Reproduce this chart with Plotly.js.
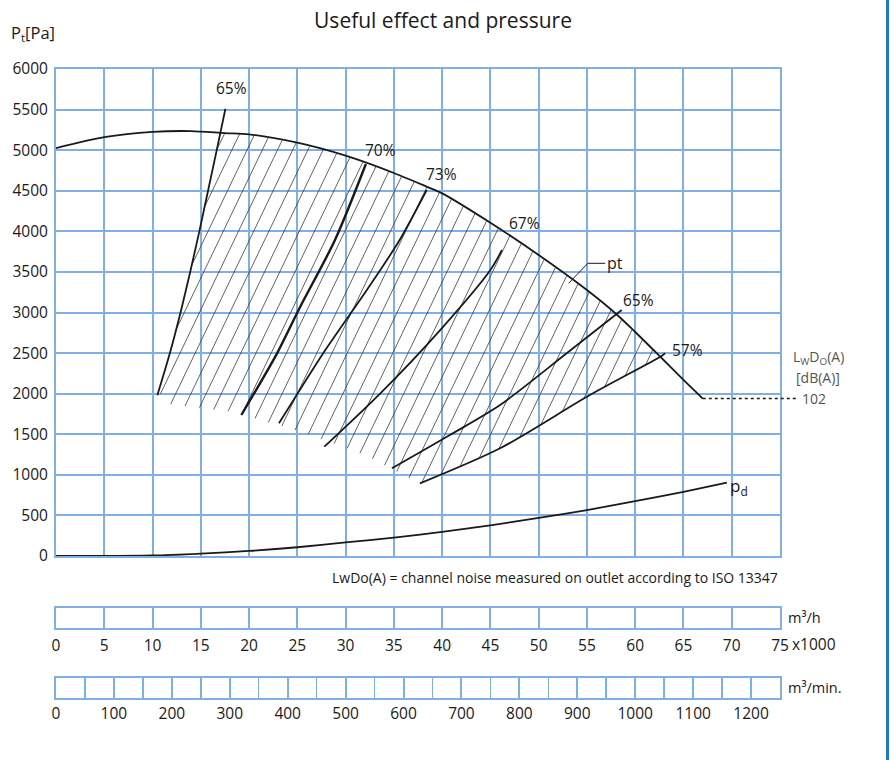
<!DOCTYPE html>
<html><head><meta charset="utf-8">
<script src="https://cdn.plot.ly/plotly-3.0.1.min.js"></script>
<style>html,body{margin:0;padding:0;background:#fff}#chart{width:896px;height:760px}</style>
</head><body><div id="chart"></div>
<script>
// ---------------- data ----------------
const ptX = [0, 5, 10, 14, 17.5, 20, 25, 30, 35, 38.5, 40, 45, 50, 55, 58, 60, 62.6, 65, 67];
const ptY = [5025, 5160, 5225, 5235, 5210, 5195, 5092, 4932, 4719, 4545, 4468, 4106, 3708, 3277, 2985, 2760, 2455, 2170, 1940];
const pdX = [0, 5, 10, 15, 20, 25, 30, 35, 40, 45, 50, 55, 60, 65, 69.5];
const pdY = [0, 2, 6, 30, 62, 108, 168, 226, 296, 378, 470, 566, 675, 791, 903];
const eff65LX = [10.5, 11.8, 12.9, 13.9, 14.85, 15.75, 16.65, 17.55];
const eff65LY = [1980, 2500, 3000, 3500, 4000, 4500, 5000, 5510];
const eff70X = [19.2, 22.9, 25.3, 28.9, 32.1];
const eff70Y = [1737, 2497, 3071, 3893, 4829];
const eff73X = [23.1, 27.9, 32.2, 35.6, 38.4];
const eff73Y = [1635, 2538, 3277, 3893, 4509];
const eff67X = [27.8, 33.6, 39.8, 45.0, 46.2];
const eff67Y = [1347, 2004, 2784, 3524, 3770];
const eff65RX = [34.8, 40.8, 46.0, 52.9, 58.6];
const eff65RY = [1080, 1490, 1860, 2497, 3031];
const eff57X = [37.7, 46.0, 55.3, 62.6, 63.1];
const eff57Y = [895, 1327, 1983, 2455, 2497];
const hatchBaseX = [10.8, 18.3, 25.3, 32.0, 37.5];
const hatchBaseY = [1885, 1774, 1531, 1244, 900];
const effLabels = ['65%', '70%', '73%', '67%', '65%', '57%'];
const effLabelX = [18.2, 33.6, 39.9, 48.5, 60.3, 65.4];
const effLabelY = [5760, 5000, 4706, 4100, 3154, 2538];
const ptLeaderX = [53.1, 55.1, 56.9];
const ptLeaderY = [3360, 3606, 3606];
const ptLabel = 'pt';
const pdLabel = 'p<sub>d</sub>';
const pdLabelX = 69.6, pdLabelY = 860;
const noiseLineX = [67.0, 76.8];
const noiseLineY = 1940;
const noiseValue = '102';
const yTicks = [0, 500, 1000, 1500, 2000, 2500, 3000, 3500, 4000, 4500, 5000, 5500, 6000];
const flowTicksH = [0, 5, 10, 15, 20, 25, 30, 35, 40, 45, 50, 55, 60, 65, 70, 75];
const flowTicksMin = [0, 100, 200, 300, 400, 500, 600, 700, 800, 900, 1000, 1100, 1200];
const xRange = [0, 75], yRange = [0, 6000], minRange = [0, 1250];

// ---------------- layout geometry / styles ----------------
const W = 896, H = 760;
const M = {l: 56, r: 116, t: 69, b: 62};
const plotW = W - M.l - M.r, plotH = H - M.t - M.b;
const mainDom = [142 / plotH, 1];
const barHDom = [70 / plotH, 90.5 / plotH];
const barMDom = [0, 20.5 / plotH];
const GRID = '#80afe5', INK = '#1a1a1a', GREY = '#555', FONT = 'Open Sans, Noto Sans, sans-serif';
const px = v => (v - xRange[0]) / (xRange[1] - xRange[0]);
const py = v => mainDom[0] + (v - yRange[0]) / (yRange[1] - yRange[0]) * (mainDom[1] - mainDom[0]);
const pxAbs = p => (p - M.l) / plotW;          // absolute pixel -> paper x
const pyAbs = p => (H - M.b - p) / plotH;      // absolute pixel -> paper y

// ---------------- hatch generation (derived from the boundary arrays) ----------------
function interp(xs, ys, x) {
  if (x <= xs[0]) return ys[0];
  if (x >= xs[xs.length - 1]) return ys[ys.length - 1];
  for (let i = 1; i < xs.length; i++) {
    if (x <= xs[i]) { const t = (x - xs[i - 1]) / (xs[i] - xs[i - 1]); return ys[i - 1] + t * (ys[i] - ys[i - 1]); }
  }
}
const lowX = hatchBaseX.concat(eff57X), lowY = hatchBaseY.concat(eff57Y);
function inside(x, y) {
  if (x < lowX[0] || x > lowX[lowX.length - 1]) return false;
  if (y > interp(ptX, ptY, x)) return false;
  if (y < interp(lowX, lowY, x)) return false;
  if (x < interp(eff65LY, eff65LX, y)) return false;
  return true;
}
const sx = plotW / (xRange[1] - xRange[0]);
const sy = plotH * (mainDom[1] - mainDom[0]) / (yRange[1] - yRange[0]);
const R = 0.48, STEP = 15.2, PHASE = -19;
const hx = [], hy = [];
for (let c = PHASE - 20 * STEP; c < 800; c += STEP) {
  let run = null, prev = null;
  for (let v = 0; v <= 520; v += 0.4) {
    const x = (c + R * v) / sx, y = v / sy;
    const inn = inside(x, y);
    if (inn && !run) run = [x, y];
    if (!inn && run) { hx.push(run[0], prev[0], null); hy.push(run[1], prev[1], null); run = null; }
    prev = [x, y];
  }
  if (run) { hx.push(run[0], prev[0], null); hy.push(run[1], prev[1], null); }
}

// ---------------- traces ----------------
const lineT = (x, y, w) => ({type: 'scatter', mode: 'lines', x: x, y: y, xaxis: 'x', yaxis: 'y',
  line: {color: INK, width: w, shape: 'spline', smoothing: 0.8}, hoverinfo: 'skip', showlegend: false});
const traces = [
  {type: 'scatter', mode: 'lines', x: hx, y: hy, line: {color: '#3a3a3a', width: 0.8}, hoverinfo: 'skip', showlegend: false, connectgaps: false},
  lineT(ptX, ptY, 1.8),
  lineT(pdX, pdY, 1.8),
  lineT(eff65LX, eff65LY, 1.8),
  lineT(eff70X, eff70Y, 2.4),
  lineT(eff73X, eff73Y, 1.8),
  lineT(eff67X, eff67Y, 1.8),
  lineT(eff65RX, eff65RY, 1.8),
  lineT(eff57X, eff57Y, 1.8),
  {type: 'scatter', mode: 'lines', x: ptLeaderX, y: ptLeaderY, line: {color: INK, width: 1}, hoverinfo: 'skip', showlegend: false},
  {type: 'scatter', mode: 'markers', x: [], y: [], xaxis: 'x2', yaxis: 'y2', showlegend: false},
  {type: 'scatter', mode: 'markers', x: [], y: [], xaxis: 'x3', yaxis: 'y3', showlegend: false}
];

// ---------------- annotations ----------------
const tickFont = {family: FONT, size: 15.5, color: INK};
const A = (o) => Object.assign({showarrow: false, xanchor: 'center', yanchor: 'middle'}, o);
const ann = [];
effLabels.forEach((t, i) => ann.push(A({x: effLabelX[i], y: effLabelY[i], xref: 'x', yref: 'y', text: t,
  font: {family: FONT, size: 15.5, color: INK}})));
ann.push(A({x: ptLeaderX[2], y: ptLeaderY[2], xref: 'x', yref: 'y', text: ptLabel, xanchor: 'left',
  font: {family: FONT, size: 16, color: INK}}));
ann.push(A({x: pdLabelX, y: pdLabelY, xref: 'x', yref: 'y', text: pdLabel, xanchor: 'left',
  font: {family: FONT, size: 17, color: INK}}));
ann.push(A({x: pxAbs(9), y: pyAbs(33), xref: 'paper', yref: 'paper', text: 'P<sub>t</sub>[Pa]', xanchor: 'left',
  font: {family: FONT, size: 16.5, color: INK}}));
ann.push(A({x: pxAbs(818), y: py(2440), xref: 'paper', yref: 'paper', text: 'L<sub>W</sub>D<sub>O</sub>(A)',
  font: {family: FONT, size: 14, color: GREY}}));
ann.push(A({x: pxAbs(818), y: py(2200), xref: 'paper', yref: 'paper', text: '[dB(A)]',
  font: {family: FONT, size: 14, color: GREY}}));
ann.push(A({x: px(noiseLineX[1]), y: py(noiseLineY), xref: 'paper', yref: 'paper', text: noiseValue, xanchor: 'left', xshift: 3,
  font: {family: FONT, size: 14, color: GREY}}));
ann.push(A({x: 1, y: pyAbs(577), xref: 'paper', yref: 'paper', xanchor: 'right',
  text: 'LwDo(A) = channel noise measured on outlet according to ISO 13347', font: {family: FONT, size: 14, color: INK}}));
ann.push(A({x: 1, y: (barHDom[0] + barHDom[1]) / 2, xref: 'paper', yref: 'paper', xanchor: 'left', xshift: 6,
  text: 'm³/h', font: {family: FONT, size: 14.5, color: INK}}));
ann.push(A({x: 1, y: (barMDom[0] + barMDom[1]) / 2, xref: 'paper', yref: 'paper', xanchor: 'left', xshift: 6,
  text: 'm³/min.', font: {family: FONT, size: 14.5, color: INK}}));
ann.push(A({x: 1, y: pyAbs(644), xref: 'paper', yref: 'paper', xanchor: 'left', xshift: 10,
  text: 'x1000', font: tickFont}));

// ---------------- shapes ----------------
const shapes = [
  {type: 'line', xref: 'paper', yref: 'paper', x0: px(noiseLineX[0]), x1: px(noiseLineX[1]), y0: py(noiseLineY), y1: py(noiseLineY),
    line: {color: INK, width: 1.5, dash: 'dot'}},
  {type: 'line', xref: 'paper', yref: 'paper', x0: pxAbs(887.5), x1: pxAbs(887.5), y0: -0.2, y1: 1.2,
    line: {color: '#1b7ccb', width: 3}}
];

const axBase = {showline: true, mirror: true, linecolor: GRID, linewidth: 2, gridcolor: GRID, gridwidth: 2, zeroline: false,
  ticks: '', tickfont: tickFont, fixedrange: true};
const layout = {
  width: W, height: H, margin: M, paper_bgcolor: '#fff', plot_bgcolor: '#fff', showlegend: false,
  font: {family: FONT, color: INK},
  title: {text: 'Useful effect and pressure', x: 443 / W, xref: 'container', xanchor: 'center', y: 1 - 21 / H, yref: 'container', yanchor: 'middle',
    font: {family: FONT, size: 21, color: INK}},
  xaxis: Object.assign({}, axBase, {domain: [0, 1], range: xRange, tickvals: flowTicksH, showticklabels: false, anchor: 'y'}),
  yaxis: Object.assign({}, axBase, {domain: mainDom, range: yRange, tickvals: yTicks, anchor: 'x', ticklabelstandoff: 3}),
  xaxis2: Object.assign({}, axBase, {domain: [0, 1], range: xRange, tickvals: flowTicksH, anchor: 'y2', ticklabelstandoff: 2}),
  yaxis2: Object.assign({}, axBase, {domain: barHDom, range: [0, 1], showgrid: false, showticklabels: false, anchor: 'x2'}),
  xaxis3: Object.assign({}, axBase, {domain: [0, 1], range: minRange, tickvals: flowTicksMin, anchor: 'y3',
    minor: {dtick: 50, showgrid: true, gridcolor: GRID, gridwidth: 1.5, ticks: ''}}),
  yaxis3: Object.assign({}, axBase, {domain: barMDom, range: [0, 1], showgrid: false, showticklabels: false, anchor: 'x3'}),
  annotations: ann, shapes: shapes
};
Plotly.newPlot('chart', traces, layout, {displayModeBar: false, staticPlot: true});
</script></body></html>
